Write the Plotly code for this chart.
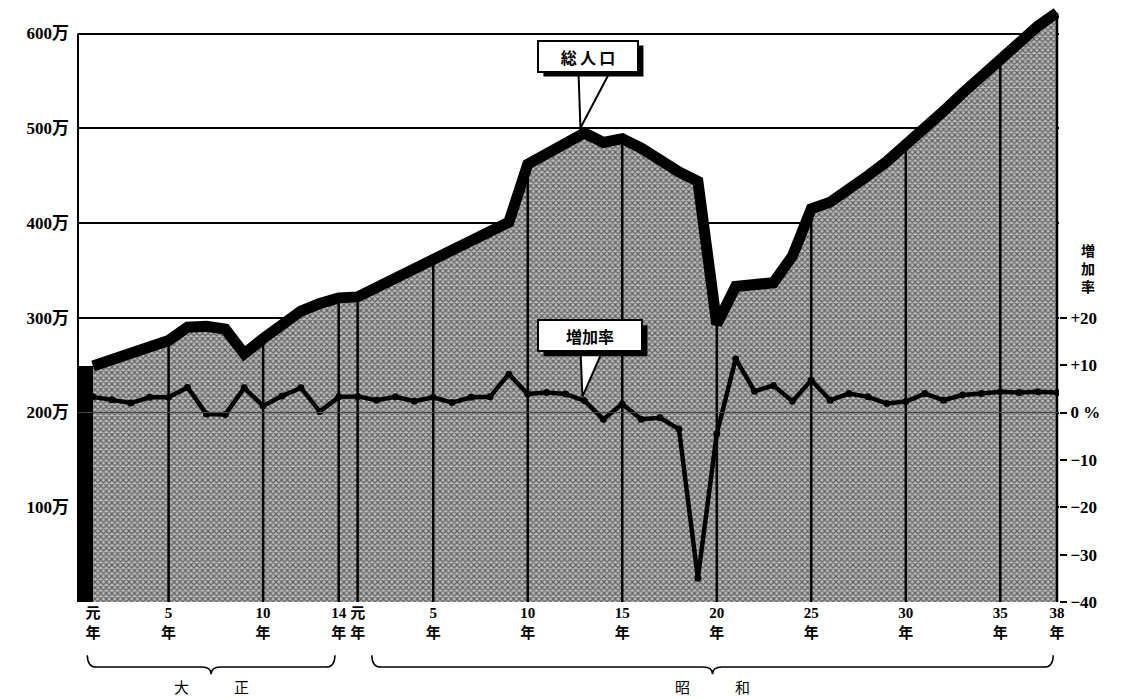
import plotly.graph_objects as go

# ---- data ----
years = list(range(1912, 1964))
population = [249, 255, 262, 268, 276, 290, 291, 288, 262, 278,
              293, 307, 315, 321, 322, 332, 341, 351, 362, 370,
              380, 390, 401, 462, 473, 483, 495, 485, 489, 479,
              466, 454, 444, 293, 333, 336, 337, 365, 415, 422,
              435, 450, 465, 482, 500, 518, 537, 555, 574, 592,
              608, 622]  # 万人
growth_rate = [3.3, 2.7, 2.0, 3.2, 3.2, 5.3, -0.3, -0.4, 5.2, 1.4,
               3.5, 5.2, 0.2, 3.3, 3.4, 2.6, 3.3, 2.4, 3.2, 2.1,
               3.2, 3.3, 8.1, 3.9, 4.2, 3.9, 2.5, -1.4, 1.8, -1.4,
               -1.1, -3.5, -35.0, -4.5, 11.3, 4.5, 5.7, 2.4, 6.8, 2.6,
               4.0, 3.3, 1.9, 2.3, 4.0, 2.6, 3.7, 4.0, 4.4, 4.2,
               4.4, 4.2]  # %

tick_years = [1912, 1916, 1921, 1925, 1926, 1930, 1935, 1940, 1945, 1950, 1955, 1960, 1963]
tick_text = ["元<br>年", "5<br>年", "10<br>年", "14<br>年", "元<br>年", "5<br>年", "10<br>年",
             "15<br>年", "20<br>年", "25<br>年", "30<br>年", "35<br>年", "38<br>年"]
divider_years = [1916, 1921, 1925, 1926, 1930, 1935, 1940, 1945, 1950, 1955, 1960, 1963]

pop_ticks = [100, 200, 300, 400, 500, 600]
pop_tick_text = ["100万", "200万", "300万", "400万", "500万", "600万"]
rate_ticks = [-40, -30, -20, -10, 0, 10, 20]
rate_tick_text = ["−40", "−30", "−20", "−10", "0 %", "+10", "+20"]

eras = [("大\u3000\u3000\u3000正", 1912, 1925), ("昭\u3000\u3000\u3000和", 1926, 1963)]

# ---- styling ----
NUM_FONT = "Liberation Serif, Noto Sans CJK JP, serif"
CJK_FONT = "Noto Sans CJK JP, sans-serif"
Y_MAX = 630.1
RATE_MIN = -40
RATE_MAX = (Y_MAX - 200) / 5  # 0% aligned with 200万, 10% = 50万

fig = go.Figure()

# shaded area (halftone-like texture)
fig.add_trace(go.Scatter(
    x=years, y=population, mode="lines", fill="tozeroy",
    line=dict(width=0, color="black"),
    fillpattern=dict(shape="x", fgcolor="#000000", bgcolor="#bdbdbd", size=4, solidity=0.5),
    hoverinfo="skip"))

# vertical divider lines inside the area
vx, vy = [], []
for yr in divider_years:
    p = population[years.index(yr)]
    vx += [yr, yr, None]
    vy += [0, p, None]
fig.add_trace(go.Scatter(x=vx, y=vy, mode="lines", line=dict(color="black", width=2.5),
                         hoverinfo="skip"))

# thick total population line
fig.add_trace(go.Scatter(x=years, y=population, mode="lines",
                         line=dict(color="black", width=11), hoverinfo="skip"))

# growth rate line
fig.add_trace(go.Scatter(x=years, y=growth_rate, mode="lines+markers", yaxis="y2",
                         line=dict(color="black", width=4.5),
                         marker=dict(color="black", size=7), hoverinfo="skip"))

shapes = []
# left black edge of the area (3D side)
shapes.append(dict(type="rect", xref="x", yref="y", xsizemode="pixel", xanchor=years[0],
                   x0=-15, x1=0, y0=0, y1=population[0], fillcolor="black", line=dict(width=0),
                   layer="above"))
# left axis line (0 .. 600万)
shapes.append(dict(type="line", xref="paper", yref="y", x0=0, x1=0, y0=0, y1=600,
                   line=dict(color="black", width=2)))
# 0 % reference line over the area
shapes.append(dict(type="line", xref="paper", yref="y2", x0=0, x1=1, y0=0, y1=0,
                   line=dict(color="#444444", width=1), layer="above"))

# speech-bubble tails
k = years.index(1938)
shapes.append(dict(type="path", xref="x", yref="y", xsizemode="pixel", ysizemode="pixel",
                   xanchor=years[k], yanchor=population[k],
                   path="M -4,5 L -6,62 L 26,62 Z", fillcolor="white",
                   line=dict(color="black", width=2), layer="above"))
shapes.append(dict(type="path", xref="x", yref="y2", xsizemode="pixel", ysizemode="pixel",
                   xanchor=years[k], yanchor=growth_rate[k],
                   path="M -2,4 L -4,52 L 19,52 Z", fillcolor="white",
                   line=dict(color="black", width=2), layer="above"))


def brace(x0, x1, ytop, ymid, ytip, d):
    xm = (x0 + x1) / 2
    return (f"M {x0},{ytop} Q {x0},{ymid} {x0 + d},{ymid} L {xm - d},{ymid} "
            f"Q {xm},{ymid} {xm},{ytip} Q {xm},{ymid} {xm + d},{ymid} "
            f"L {x1 - d},{ymid} Q {x1},{ymid} {x1},{ytop}")


annotations = []
brace_offsets = [(-0.3, -0.2), (0.75, -0.2)]
for (name, s, e), (o0, o1) in zip(eras, brace_offsets):
    x0, x1 = s + o0, e + o1
    shapes.append(dict(type="path", xref="x", yref="paper",
                       path=brace(x0, x1, -0.089, -0.109, -0.121, 0.5),
                       line=dict(color="black", width=1.5)))
    annotations.append(dict(x=(x0 + x1) / 2, y=-0.141, xref="x", yref="paper", text=name,
                            showarrow=False, font=dict(family=CJK_FONT, size=15, color="black"),
                            yanchor="middle"))

# callout boxes: drop shadow (shape) + white box (annotation)
BOX_H = 27
for label, yref, yval, xs, ys, w in [("総\u2009人\u2009口", "y", population[k], 4, 77, 96),
                                      ("増加率", "y2", growth_rate[k], 6, 65, 100)]:
    W, H = w + 4, BOX_H + 4
    shapes.append(dict(type="rect", xref="x", yref=yref, xsizemode="pixel", ysizemode="pixel",
                       xanchor=years[k], yanchor=yval,
                       x0=xs - W / 2 + 5, x1=xs + W / 2 + 5, y0=ys - H / 2 - 5, y1=ys + H / 2 - 5,
                       fillcolor="black", line=dict(width=0), layer="above"))
    annotations.append(dict(x=years[k], y=yval, xref="x", yref=yref, text=label, showarrow=False,
                            xshift=xs, yshift=ys, width=w, height=BOX_H, bgcolor="white",
                            bordercolor="black", borderwidth=2, borderpad=1,
                            font=dict(family=CJK_FONT, size=16, color="black", weight="bold")))

# right axis title
annotations.append(dict(x=1.03, y=0.56, xref="paper", yref="paper", text="増<br>加<br>率",
                        showarrow=False, xanchor="center", yanchor="middle",
                        font=dict(family=CJK_FONT, size=14, color="black", weight="bold")))

fig.update_layout(
    width=1129, height=699,
    margin=dict(l=78, r=70, t=5, b=97, autoexpand=False),
    plot_bgcolor="white", paper_bgcolor="white", showlegend=False,
    shapes=shapes, annotations=annotations,
    xaxis=dict(range=[1911.2064, 1963.1055], tickvals=tick_years, ticktext=tick_text,
               showgrid=False, zeroline=False, showline=False, ticks="",
               tickfont=dict(family=NUM_FONT, size=15, color="black", weight="bold")),
    yaxis=dict(range=[0, Y_MAX], tickvals=pop_ticks, ticktext=pop_tick_text,
               showgrid=True, gridcolor="black", gridwidth=1.5, zeroline=False,
               showline=False, ticks="", ticklabelstandoff=8,
               tickfont=dict(family=NUM_FONT, size=17, color="black", weight="bold")),
    yaxis2=dict(range=[RATE_MIN, RATE_MAX], overlaying="y", side="right",
                tickvals=rate_ticks, ticktext=rate_tick_text, showgrid=False, zeroline=False,
                showline=False, ticks="outside", ticklen=7, tickwidth=1.5, tickcolor="black",
                tickfont=dict(family=NUM_FONT, size=17, color="black", weight="bold")),
)

fig.write_html("out.html", config={"displayModeBar": False},
               post_script="document.body.style.margin='0';document.body.style.overflow='hidden';")
